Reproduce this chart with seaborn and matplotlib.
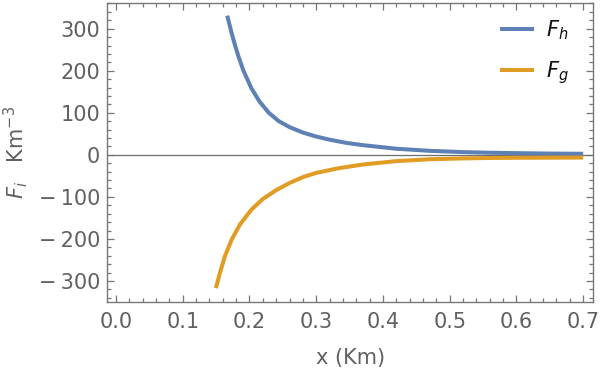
import numpy as np
import pandas as pd
import matplotlib
matplotlib.use("Agg")
import matplotlib.pyplot as plt
import seaborn as sns
from matplotlib.ticker import MultipleLocator, FixedLocator, FixedFormatter

# values
x_h = [0.1667, 0.1732, 0.1781, 0.1835, 0.1910, 0.2030, 0.2150, 0.2290, 0.2440, 0.26,
       0.28, 0.30, 0.32, 0.345, 0.37, 0.42, 0.47, 0.52, 0.56, 0.60, 0.65, 0.70]
f_h = [331, 290, 262, 234, 200, 158, 127, 100, 80, 66,
       53, 43.5, 36, 28.5, 23, 14.5, 9.5, 6.5, 5, 4, 3, 2.5]

x_g = [0.1497, 0.1557, 0.1632, 0.1732, 0.1856, 0.2031, 0.22, 0.24, 0.26, 0.28,
       0.30, 0.333, 0.37, 0.42, 0.47, 0.52, 0.56, 0.60, 0.65, 0.70]
f_g = [-317, -281, -241, -202, -166, -130, -105, -84, -67, -53,
       -43, -32, -23, -15, -10.5, -8.5, -7.5, -7, -6.8, -6.5]

x_ticks = [0.0, 0.1, 0.2, 0.3, 0.4, 0.5, 0.6, 0.7]
x_ticklabels = ["0.0", "0.1", "0.2", "0.3", "0.4", "0.5", "0.6", "0.7"]
y_ticks = [-300, -200, -100, 0, 100, 200, 300]
y_ticklabels = ["\u2212\u2009300", "\u2212\u2009200", "\u2212\u2009100", "0", "100", "200", "300"]

blue = "#5E81B5"
orange = "#E19C24"
grey = "#606060"

sns.set_style("ticks")
plt.rcParams['font.family'] = ['DejaVu Sans']
plt.rcParams['mathtext.fontset'] = 'custom'
plt.rcParams['mathtext.rm'] = 'DejaVu Sans'
plt.rcParams['mathtext.it'] = 'DejaVu Sans:italic'

fig, ax = plt.subplots(figsize=(6.01, 3.77), dpi=100)
fig.subplots_adjust(left=0.178, right=0.987, top=0.993, bottom=0.199)

df_h = pd.DataFrame({"x": x_h, "F": f_h})
df_g = pd.DataFrame({"x": x_g, "F": f_g})

ax.axhline(0, color="#6e6e6e", lw=0.9, zorder=1)
sns.lineplot(data=df_h, x="x", y="F", ax=ax, color=blue, lw=2.9, label="$F_h$",
             solid_capstyle="butt", solid_joinstyle="round")
sns.lineplot(data=df_g, x="x", y="F", ax=ax, color=orange, lw=2.9, label="$F_g$",
             solid_capstyle="butt", solid_joinstyle="round")

ax.set_xlim(-0.0135, 0.715)
ax.set_ylim(-350, 362)

ax.xaxis.set_major_locator(FixedLocator(x_ticks))
ax.xaxis.set_major_formatter(FixedFormatter(x_ticklabels))
ax.xaxis.set_minor_locator(MultipleLocator(0.02))
ax.yaxis.set_major_locator(FixedLocator(y_ticks))
ax.yaxis.set_major_formatter(FixedFormatter(y_ticklabels))
ax.yaxis.set_minor_locator(MultipleLocator(20))

ax.tick_params(which="both", direction="in", top=True, right=True,
               color="#777777", labelcolor=grey, labelsize=15, width=0.9)
ax.tick_params(which="major", length=5)
ax.tick_params(which="minor", length=3)
ax.tick_params(axis="x", which="major", pad=7)
ax.tick_params(axis="y", which="major", pad=5)
for s in ax.spines.values():
    s.set_color("#777777")
    s.set_linewidth(1.0)

ax.set_xlabel("x (Km)", fontsize=15, color=grey, labelpad=12)
ax.set_ylabel("$F_i$   Km$^{-3}$", fontsize=15, color=grey, labelpad=6)

leg = ax.legend(loc="upper left", bbox_to_anchor=(0.792, 0.975), frameon=False,
                fontsize=15, handlelength=1.63, labelspacing=0.8,
                handletextpad=0.55, borderaxespad=0.0)
for t in leg.get_texts():
    t.set_color("#111111")

fig.savefig("out.png", dpi=100)
